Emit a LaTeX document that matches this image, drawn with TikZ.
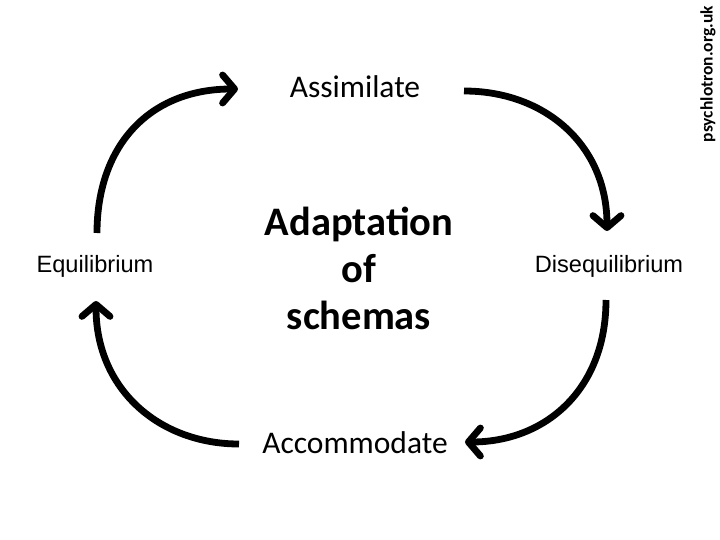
\documentclass[tikz,border=0pt]{standalone}
\usepackage{fontspec}
\setmainfont{Carlito}
\newfontfamily\arialf{Liberation Sans}
\usetikzlibrary{arrows.meta}
\begin{document}
\begin{tikzpicture}[x=1pt,y=-1pt,
  cyc/.style={line width=6.8pt,-{Straight Barb[length=12pt,width=28pt,line width=6.8pt,round]}},
  lbl/.style={inner sep=0pt,anchor=center}]
\useasboundingbox (0,0) rectangle (720,540);
\node[lbl,font=\fontsize{31.5}{36}\selectfont] (as) at (355,87) {Assimilate};
\node[lbl,font=\fontsize{31.5}{36}\selectfont] (ac) at (355,443) {Accommodate};
\node[lbl,font=\arialf\fontsize{23.6}{28}\selectfont] (eq) at (95,266) {Equilibrium};
\node[lbl,font=\arialf\fontsize{23.6}{28}\selectfont] (dq) at (609,266) {Disequilibrium};
\node[lbl,align=center,font=\bfseries\fontsize{40.5}{47}\selectfont] (ad) at (359,268) {Adaptation\\of\\schemas};
\node[lbl,rotate=90,font=\bfseries\fontsize{17.5}{21}\selectfont] (ps) at (708,74) {psychlotron.org.uk};
\coordinate (a1s) at (97,233);
\coordinate (a1e) at (238,89);
\coordinate (a2s) at (464,91);
\coordinate (a2e) at (607,231);
\coordinate (a3s) at (606,300);
\coordinate (a3e) at (465,442);
\coordinate (a4s) at (239,444);
\coordinate (a4e) at (96,301);
\draw[cyc] (a1s) .. controls (97,145) and (150,89) .. (a1e);
\draw[cyc] (a2s) .. controls (545,91) and (607,145) .. (a2e);
\draw[cyc] (a3s) .. controls (606,390) and (545,442) .. (a3e);
\draw[cyc] (a4s) .. controls (160,444) and (96,390) .. (a4e);
\end{tikzpicture}
\end{document}
